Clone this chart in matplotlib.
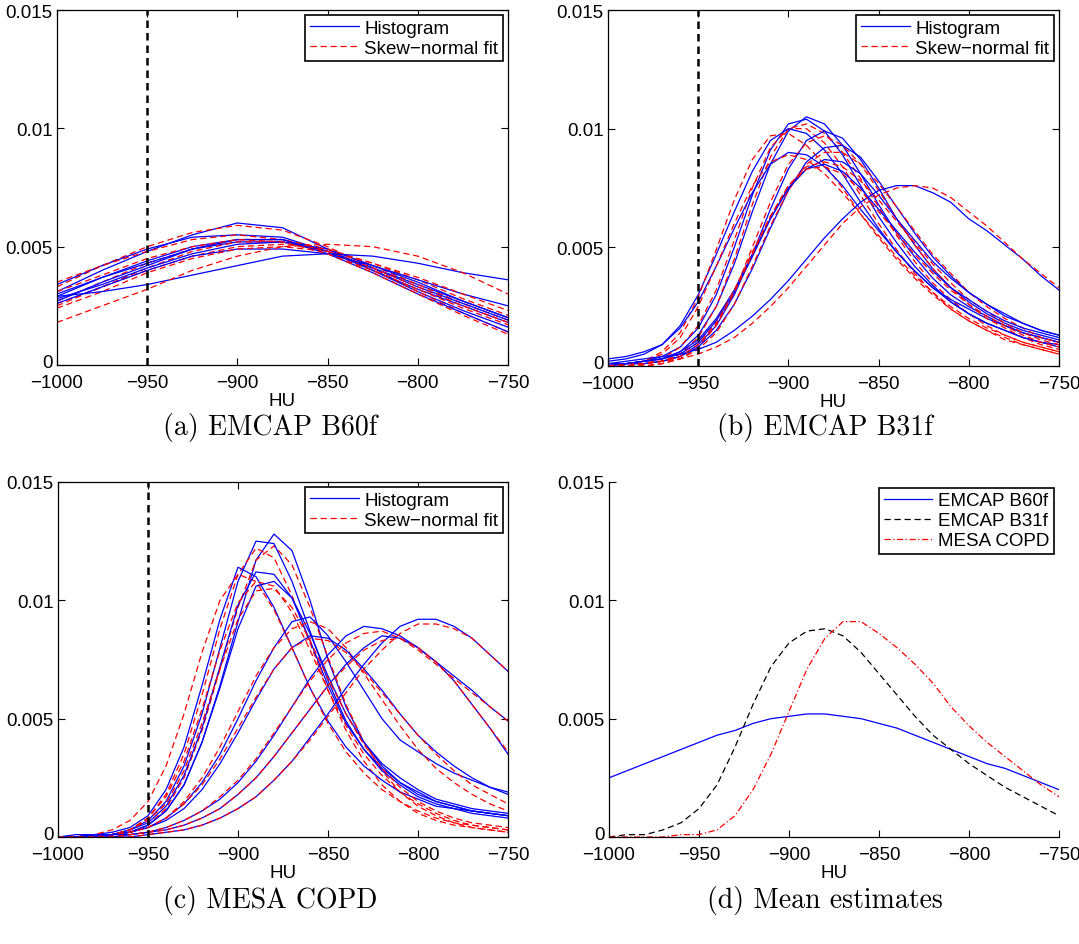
import numpy as np
import matplotlib
matplotlib.use("Agg")
import matplotlib.pyplot as plt
from matplotlib.transforms import ScaledTranslation

# ---------------- data ----------------
HU_COARSE = [-1000, -975, -950, -925, -900, -875, -850, -825, -800, -775, -750]
HU_FINE = [-1000, -990, -980, -970, -960, -950, -940, -930, -920, -910, -900, -890, -880,
           -870, -860, -850, -840, -830, -820, -810, -800, -790, -780, -770, -760, -750]

# (a) EMCAP B60f  (on HU_COARSE)
a_hist_1 = [.0031, .0040, .0048, .0055, .0060, .0058, .0049, .0040, .0031, .0023, .0016]
a_hist_2 = [.0034, .0042, .0049, .0054, .0055, .0054, .0048, .0040, .0032, .0025, .0018]
a_hist_3 = [.0029, .0037, .0044, .0050, .0053, .0053, .0048, .0041, .0034, .0027, .0020]
a_hist_4 = [.0027, .0035, .0042, .0049, .0052, .0052, .0048, .0041, .0033, .0026, .0019]
a_hist_5 = [.0028, .0034, .0041, .0047, .0051, .0052, .0049, .0042, .0035, .0027, .0020]
a_hist_6 = [.0026, .0033, .0040, .0046, .0049, .0049, .0047, .0042, .0036, .0030, .0025]
a_hist_7 = [.0029, .0031, .0034, .0038, .0042, .0046, .0047, .0046, .0043, .0039, .0036]
a_hist_8 = [.0030, .0037, .0043, .0049, .0053, .0053, .0047, .0039, .0030, .0022, .0014]
a_fit_1 = [.0033, .0042, .0050, .0056, .0059, .0057, .0050, .0041, .0031, .0022, .0014]
a_fit_2 = [.0035, .0042, .0048, .0053, .0055, .0053, .0047, .0040, .0032, .0024, .0017]
a_fit_3 = [.0027, .0035, .0043, .0049, .0053, .0053, .0049, .0042, .0034, .0026, .0019]
a_fit_4 = [.0025, .0033, .0041, .0048, .0052, .0052, .0048, .0041, .0033, .0025, .0018]
a_fit_5 = [.0026, .0033, .0040, .0046, .0050, .0051, .0049, .0043, .0036, .0028, .0021]
a_fit_6 = [.0024, .0031, .0039, .0045, .0049, .0050, .0048, .0043, .0037, .0030, .0023]
a_fit_7 = [.0018, .0025, .0032, .0040, .0046, .0050, .0051, .0050, .0046, .0039, .0030]
a_fit_8 = [.0031, .0038, .0045, .0050, .0053, .0052, .0047, .0039, .0030, .0021, .0013]

# (b) EMCAP B31f  (on HU_FINE)
b_hist_1 = [.0001, .0001, .0002, .0003, .0006, .0013, .0025, .0043, .0065, .0085, .0099, .0105, .0102,
            .0093, .0081, .0068, .0056, .0046, .0037, .0030, .0025, .0021, .0017, .0014, .0012, .0010]
b_hist_2 = [.0001, .0001, .0002, .0004, .0008, .0016, .0030, .0050, .0072, .0091, .0102, .0104, .0099,
            .0089, .0076, .0063, .0052, .0042, .0034, .0027, .0022, .0018, .0015, .0012, .0010, .0008]
b_hist_3 = [.0002, .0003, .0005, .0009, .0017, .0030, .0047, .0065, .0082, .0095, .0100, .0098, .0091,
            .0081, .0069, .0058, .0048, .0040, .0033, .0028, .0024, .0020, .0017, .0014, .0012, .0010]
b_hist_4 = [.0000, .0001, .0001, .0002, .0004, .0009, .0017, .0030, .0047, .0066, .0083, .0095, .0099,
            .0096, .0087, .0075, .0062, .0051, .0041, .0033, .0027, .0022, .0018, .0015, .0013, .0011]
b_hist_5 = [.0000, .0001, .0001, .0002, .0004, .0008, .0015, .0026, .0041, .0058, .0074, .0086, .0092,
            .0093, .0088, .0078, .0067, .0056, .0046, .0038, .0031, .0026, .0021, .0018, .0015, .0013]
b_hist_6 = [.0003, .0004, .0006, .0009, .0016, .0027, .0042, .0058, .0073, .0085, .0090, .0089, .0084,
            .0076, .0066, .0057, .0048, .0040, .0033, .0027, .0022, .0018, .0015, .0012, .0010, .0009]
b_hist_7 = [.0001, .0001, .0002, .0003, .0006, .0011, .0020, .0032, .0047, .0062, .0075, .0083, .0087,
            .0086, .0081, .0072, .0062, .0053, .0044, .0037, .0031, .0026, .0022, .0018, .0015, .0013]
b_hist_8 = [.0001, .0002, .0003, .0004, .0005, .0007, .0010, .0015, .0021, .0028, .0036, .0045, .0054,
            .0062, .0069, .0074, .0076, .0076, .0073, .0069, .0062, .0057, .0051, .0045, .0038, .0032]
b_hist_9 = [.0001, .0001, .0002, .0003, .0005, .0010, .0019, .0031, .0046, .0062, .0075, .0083, .0085,
            .0082, .0075, .0066, .0057, .0048, .0040, .0033, .0028, .0023, .0019, .0016, .0014, .0012]
b_fit_1 = [0, 0, .0001, .0002, .0005, .0012, .0025, .0045, .0068, .0088, .0100, .0102, .0098,
           .0090, .0079, .0067, .0055, .0044, .0035, .0028, .0022, .0017, .0013, .0010, .0008, .0006]
b_fit_2 = [0, 0, .0001, .0003, .0008, .0017, .0032, .0053, .0075, .0092, .0100, .0100, .0094,
           .0084, .0072, .0060, .0049, .0039, .0031, .0024, .0019, .0015, .0011, .0009, .0007, .0005]
b_fit_3 = [0, .0001, .0002, .0006, .0014, .0029, .0049, .0070, .0087, .0097, .0098, .0093, .0085,
           .0075, .0064, .0054, .0045, .0037, .0030, .0024, .0019, .0015, .0012, .0009, .0007, .0005]
b_fit_4 = [0, 0, 0, .0001, .0003, .0008, .0017, .0031, .0050, .0069, .0085, .0094, .0097,
           .0093, .0085, .0074, .0062, .0051, .0041, .0033, .0026, .0020, .0016, .0012, .0009, .0007]
b_fit_5 = [0, 0, 0, .0001, .0003, .0007, .0014, .0026, .0042, .0059, .0074, .0085, .0090,
           .0090, .0085, .0077, .0067, .0057, .0047, .0039, .0031, .0025, .0020, .0016, .0012, .0010]
b_fit_6 = [0, .0001, .0002, .0005, .0012, .0025, .0042, .0060, .0076, .0086, .0089, .0087, .0081,
           .0073, .0064, .0055, .0046, .0038, .0031, .0025, .0020, .0016, .0013, .0010, .0008, .0006]
b_fit_7 = [0, 0, .0001, .0002, .0005, .0010, .0019, .0032, .0048, .0063, .0076, .0084, .0086,
           .0084, .0078, .0070, .0061, .0052, .0043, .0035, .0028, .0023, .0018, .0014, .0011, .0009]
b_fit_8 = [0, .0001, .0001, .0002, .0003, .0005, .0008, .0012, .0018, .0025, .0033, .0042, .0051,
           .0060, .0067, .0072, .0075, .0076, .0075, .0071, .0065, .0059, .0052, .0045, .0039, .0033]
b_fit_9 = [0, 0, .0001, .0002, .0004, .0009, .0018, .0031, .0047, .0063, .0076, .0083, .0084,
           .0081, .0074, .0065, .0056, .0047, .0039, .0032, .0026, .0021, .0017, .0013, .0010, .0008]

# (c) MESA COPD  (on HU_FINE)
c_hist_1 = [0, 0, .0001, .0001, .0002, .0005, .0011, .0022, .0040, .0064, .0091, .0117, .0128,
            .0121, .0100, .0075, .0055, .0040, .0030, .0023, .0018, .0015, .0013, .0011, .0010, .0009]
c_hist_2 = [0, 0, .0001, .0001, .0003, .0007, .0015, .0030, .0052, .0080, .0108, .0125, .0124,
            .0108, .0087, .0066, .0049, .0037, .0028, .0022, .0017, .0014, .0012, .0011, .0010, .0009]
c_hist_3 = [0, .0001, .0001, .0002, .0004, .0009, .0020, .0038, .0064, .0092, .0114, .0110, .0097,
            .0080, .0063, .0049, .0038, .0030, .0024, .0019, .0016, .0013, .0012, .0010, .0009, .0008]
c_hist_4 = [0, 0, .0001, .0001, .0003, .0006, .0013, .0026, .0046, .0072, .0098, .0112, .0111,
            .0101, .0083, .0064, .0048, .0037, .0029, .0023, .0019, .0015, .0013, .0011, .0010, .0009]
c_hist_5 = [0, 0, .0001, .0001, .0002, .0005, .0011, .0022, .0040, .0063, .0088, .0106, .0108,
            .0101, .0086, .0068, .0052, .0040, .0031, .0025, .0020, .0016, .0014, .0012, .0011, .0010]
c_hist_6 = [0, 0, .0001, .0001, .0002, .0004, .0008, .0014, .0023, .0035, .0050, .0066, .0080,
            .0091, .0093, .0085, .0074, .0062, .0050, .0041, .0036, .0031, .0027, .0024, .0021, .0019]
c_hist_7 = [0, 0, .0001, .0001, .0002, .0004, .0007, .0012, .0020, .0031, .0044, .0058, .0071,
            .0080, .0085, .0084, .0079, .0071, .0062, .0052, .0043, .0036, .0030, .0025, .0021, .0018]
c_hist_8 = [0, 0, 0, .0001, .0001, .0002, .0004, .0007, .0011, .0016, .0023, .0032, .0043,
            .0055, .0067, .0077, .0085, .0089, .0088, .0085, .0080, .0074, .0068, .0062, .0055, .0049]
c_hist_9 = [0, 0, 0, 0, 0, .0001, .0002, .0003, .0005, .0008, .0012, .0017, .0024,
            .0032, .0042, .0052, .0063, .0073, .0082, .0089, .0092, .0092, .0089, .0084, .0077, .0070]
c_hist_10 = [0, 0, 0, 0, .0001, .0002, .0003, .0005, .0008, .0012, .0018, .0025, .0034,
             .0044, .0054, .0064, .0073, .0080, .0085, .0084, .0080, .0074, .0066, .0056, .0046, .0035]
c_fit_1 = [0, 0, 0, .0001, .0002, .0005, .0012, .0025, .0045, .0071, .0097, .0117, .0123,
           .0115, .0097, .0076, .0056, .0040, .0028, .0019, .0013, .0009, .0006, .0004, .0003, .0002]
c_fit_2 = [0, 0, 0, .0001, .0003, .0008, .0018, .0035, .0060, .0088, .0111, .0122, .0118,
           .0102, .0082, .0062, .0045, .0032, .0022, .0015, .0010, .0007, .0005, .0004, .0003, .0002]
c_fit_3 = [0, 0, .0001, .0003, .0007, .0015, .0030, .0052, .0078, .0100, .0111, .0108, .0096,
           .0080, .0063, .0048, .0036, .0027, .0020, .0015, .0011, .0008, .0006, .0005, .0004, .0003]
c_fit_4 = [0, 0, 0, .0001, .0003, .0008, .0017, .0032, .0054, .0079, .0099, .0108, .0106,
           .0095, .0079, .0062, .0047, .0035, .0026, .0019, .0014, .0010, .0007, .0005, .0004, .0003]
c_fit_5 = [0, 0, 0, .0001, .0003, .0007, .0014, .0028, .0048, .0071, .0092, .0104, .0105,
           .0097, .0083, .0067, .0052, .0039, .0029, .0021, .0015, .0011, .0008, .0006, .0005, .0004]
c_fit_6 = [0, 0, 0, .0001, .0002, .0004, .0008, .0015, .0025, .0038, .0053, .0068, .0080,
           .0088, .0091, .0088, .0080, .0069, .0058, .0047, .0037, .0029, .0023, .0018, .0014, .0011]
c_fit_7 = [0, 0, 0, .0001, .0002, .0004, .0008, .0014, .0022, .0033, .0046, .0059, .0071,
           .0080, .0084, .0083, .0078, .0070, .0061, .0052, .0043, .0035, .0028, .0022, .0018, .0014]
c_fit_8 = [0, 0, 0, 0, .0001, .0002, .0004, .0007, .0011, .0017, .0024, .0033, .0044,
           .0055, .0066, .0075, .0082, .0086, .0087, .0084, .0079, .0073, .0067, .0061, .0055, .0049]
c_fit_9 = [0, 0, 0, 0, 0, .0001, .0002, .0003, .0005, .0008, .0012, .0017, .0024,
           .0032, .0041, .0051, .0061, .0071, .0079, .0086, .0090, .0090, .0088, .0084, .0077, .0070]
c_fit_10 = [0, 0, 0, 0, .0001, .0002, .0003, .0005, .0008, .0012, .0018, .0025, .0034,
            .0044, .0054, .0064, .0072, .0079, .0083, .0084, .0080, .0074, .0066, .0056, .0046, .0036]

# (d) Mean estimates (on HU_FINE)
d_emcap_b60f = [.0025, .0028, .0031, .0034, .0037, .0040, .0043, .0045, .0048, .0050, .0051, .0052, .0052,
                .0051, .0050, .0048, .0046, .0043, .0040, .0037, .0034, .0031, .0029, .0026, .0023, .0020]
d_emcap_b31f = [.0000, .0001, .0001, .0003, .0006, .0012, .0022, .0038, .0056, .0072, .0082, .0087, .0088,
                .0085, .0078, .0069, .0060, .0051, .0043, .0037, .0031, .0026, .0021, .0017, .0013, .0009]
d_mesa_copd = [0, 0, 0, 0, .0001, .0001, .0003, .0009, .0020, .0035, .0053, .0071, .0084,
               .0091, .0091, .0086, .0080, .0073, .0065, .0055, .0047, .0040, .0034, .0028, .0022, .0017]

THRESHOLD_HU = -950
PANEL_CAPTIONS = ["(a) EMCAP B60f", "(b) EMCAP B31f", "(c) MESA COPD", "(d) Mean estimates"]
X_TICKS = [-1000, -950, -900, -850, -800, -750]
Y_TICKS = [0, 0.005, 0.01, 0.015]
Y_TICK_LABELS = ["0", "0.005", "0.01", "0.015"]

# ---------------- figure ----------------
W, H = 1079, 945
fig = plt.figure(figsize=(W / 100, H / 100), dpi=100)
plt.rcParams['font.family'] = ['Liberation Sans', 'DejaVu Sans']


def add_ax(l, r, t, b):
    return fig.add_axes([l / W, 1 - b / H, (r - l) / W, (b - t) / H])


TICK_FS = 13.5


def style(ax, box=True):
    ax.set_xlim(-1000, -750)
    ax.set_ylim(0, 0.015)
    ax.set_xticks(X_TICKS)
    ax.set_xticklabels([f"\u2212{abs(v)}" for v in X_TICKS])
    ax.set_yticks(Y_TICKS)
    ax.set_yticklabels(Y_TICK_LABELS)
    ax.tick_params(direction='in', length=5, width=0.8, labelsize=TICK_FS,
                   top=box, right=box)
    ax.tick_params(axis='x', pad=6.5)
    ax.tick_params(axis='y', pad=3)
    # lift the "0" label slightly so it sits just above the "-1000" label
    zero_lbl = ax.get_yticklabels()[0]
    zero_lbl.set_transform(zero_lbl.get_transform() +
                           ScaledTranslation(0, 3 / 72, fig.dpi_scale_trans))
    for s in ax.spines.values():
        s.set_linewidth(0.9)
    if not box:
        ax.spines['top'].set_visible(False)
        ax.spines['right'].set_visible(False)
    ax.set_xlabel("HU", fontsize=TICK_FS, labelpad=1)


LW = 0.9
DASH = (5, 3)

panels = [
    (add_ax(57, 508, 11, 366), HU_COARSE,
     [a_hist_1, a_hist_2, a_hist_3, a_hist_4, a_hist_5, a_hist_6, a_hist_7, a_hist_8],
     [a_fit_1, a_fit_2, a_fit_3, a_fit_4, a_fit_5, a_fit_6, a_fit_7, a_fit_8]),
    (add_ax(608, 1059, 11, 367), HU_FINE,
     [b_hist_1, b_hist_2, b_hist_3, b_hist_4, b_hist_5, b_hist_6, b_hist_7, b_hist_8, b_hist_9],
     [b_fit_1, b_fit_2, b_fit_3, b_fit_4, b_fit_5, b_fit_6, b_fit_7, b_fit_8, b_fit_9]),
    (add_ax(58, 508, 483, 838), HU_FINE,
     [c_hist_1, c_hist_2, c_hist_3, c_hist_4, c_hist_5, c_hist_6, c_hist_7, c_hist_8, c_hist_9, c_hist_10],
     [c_fit_1, c_fit_2, c_fit_3, c_fit_4, c_fit_5, c_fit_6, c_fit_7, c_fit_8, c_fit_9, c_fit_10]),
]

for ax, hu, hists, fits in panels:
    for i, (h, f) in enumerate(zip(hists, fits)):
        ax.plot(hu, h, color=(0, 0, 1), lw=LW, label="Histogram" if i == 0 else None)
        ax.plot(hu, f, color=(1, 0, 0), lw=LW, dashes=DASH,
                label="Skew\u2212normal fit" if i == 0 else None)
    ax.axvline(THRESHOLD_HU, color='black', lw=1.8, dashes=(3, 2))
    style(ax, box=True)
    leg = ax.legend(loc='upper right', bbox_to_anchor=(0.989, 0.986), borderaxespad=0,
                    fancybox=False, edgecolor='black', framealpha=1, fontsize=TICK_FS,
                    handlelength=2.6, handletextpad=0.3, borderpad=0.25, labelspacing=0.15)
    leg.get_frame().set_linewidth(1.2)

axd = add_ax(609, 1059, 483, 838)
axd.plot(HU_FINE, d_emcap_b60f, color=(0, 0, 1), lw=LW, label="EMCAP B60f")
axd.plot(HU_FINE, d_emcap_b31f, color='black', lw=LW, dashes=DASH, label="EMCAP B31f")
axd.plot(HU_FINE, d_mesa_copd, color=(1, 0, 0), lw=LW, dashes=(5, 2, 1, 2), label="MESA COPD")
style(axd, box=False)
leg = axd.legend(loc='upper right', bbox_to_anchor=(0.989, 0.984), borderaxespad=0,
                 fancybox=False, edgecolor='black', framealpha=1, fontsize=TICK_FS,
                 handlelength=2.6, handletextpad=0.3, borderpad=0.25, labelspacing=0.15)
leg.get_frame().set_linewidth(1.2)

caption_pos = [(270, 428), (825, 428), (270, 901), (825, 901)]
for (cx, cy), txt in zip(caption_pos, PANEL_CAPTIONS):
    fig.text(cx / W, 1 - cy / H, txt, ha='center', va='center', fontsize=20, family='cmr10')

fig.savefig("out.png", dpi=100)
